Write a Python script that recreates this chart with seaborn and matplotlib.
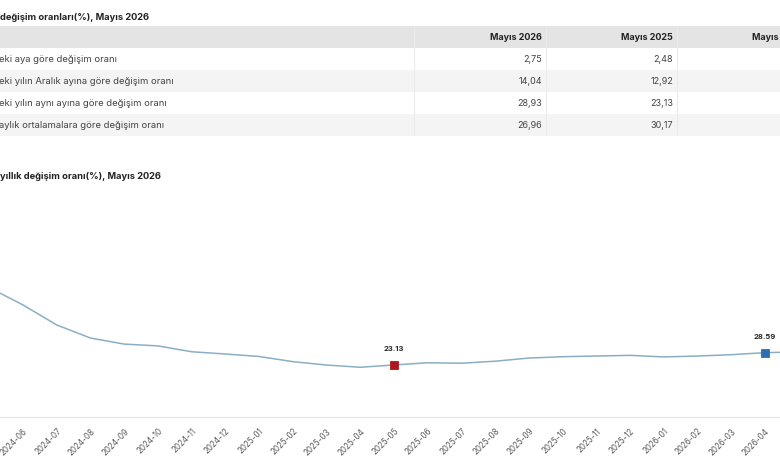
import matplotlib
matplotlib.use("Agg")
import matplotlib.pyplot as plt
import pandas as pd
import seaborn as sns

sns.set_theme(style="white")
plt.rcParams["font.family"] = ["Inter", "DejaVu Sans"]

W, H = 780, 470

# table data
table_title = "değişim oranları(%), Mayıs 2026"
col_headers = ["Mayıs 2026", "Mayıs 2025", "Mayıs 2024"]
row_labels = [
    "eki aya göre değişim oranı",
    "eki yılın Aralık ayına göre değişim oranı",
    "eki yılın aynı ayına göre değişim oranı",
    "aylık ortalamalara göre değişim oranı",
]
may_2026 = [2.75, 14.04, 28.93, 26.96]
may_2025 = [2.48, 12.92, 23.13, 30.17]

# line chart data
chart_title = "yıllık değişim oranı(%), Mayıs 2026"
months = [
    "2024-05", "2024-06", "2024-07", "2024-08", "2024-09", "2024-10",
    "2024-11", "2024-12", "2025-01", "2025-02", "2025-03", "2025-04",
    "2025-05", "2025-06", "2025-07", "2025-08", "2025-09", "2025-10",
    "2025-11", "2025-12", "2026-01", "2026-02", "2026-03", "2026-04",
    "2026-05",
]
annual_rate = [
    57.5, 49.8, 40.9, 35.1, 32.4, 31.6,
    29.0, 28.0, 26.9, 24.6, 23.1, 22.1,
    23.13, 24.1, 23.9, 24.8, 26.2, 26.8,
    27.1, 27.4, 26.7, 27.1, 27.7, 28.59,
    28.93,
]
highlight_months = ["2025-05", "2026-04"]
highlight_colors = ["#b0141c", "#2b6fb3"]


def px_rect(left, top, right, bottom):
    return [left / W, 1 - bottom / H, (right - left) / W, (bottom - top) / H]


def fmt(v):
    return f"{v:.2f}".replace(".", ",")


fig = plt.figure(figsize=(W / 100, H / 100), dpi=100)
fig.patch.set_facecolor("white")

# ---- table ----
fig.text(0 / W, 1 - 18 / H, table_title, fontsize=6.7, fontweight="bold",
         color="#222222", va="center", ha="left")

ax_t = fig.add_axes(px_rect(0, 26, W, 136))
ax_t.set_xlim(0, W)
ax_t.set_ylim(len(row_labels) + 1, 0)
ax_t.axis("off")

ax_t.axhspan(0, 1, color="#e4e4e4", lw=0)
for i in range(len(row_labels)):
    if i % 2 == 1:
        ax_t.axhspan(i + 1, i + 2, color="#f4f4f4", lw=0)
for sep in [414, 546, 677]:
    ax_t.axvline(sep, color="#ebebeb", lw=0.8)

col_right = [542, 673, 804]
for x, head in zip(col_right, col_headers):
    ax_t.text(x, 0.5, head, ha="right", va="center", fontsize=6.5,
              fontweight="bold", color="#222222")

for i, label in enumerate(row_labels):
    ax_t.text(-1, i + 1.5, label, ha="left", va="center", fontsize=6.8, color="#444444")
for x, values in zip(col_right, [may_2026, may_2025]):
    for i, v in enumerate(values):
        ax_t.text(x, i + 1.5, fmt(v), ha="right", va="center", fontsize=6.5, color="#444444")

# ---- line chart ----
fig.text(0 / W, 1 - 177 / H, chart_title, fontsize=6.7, fontweight="bold",
         color="#222222", va="center", ha="left")

df = pd.DataFrame({"idx": range(len(months)), "month": months, "rate": annual_rate})

ax = fig.add_axes(px_rect(0, 192, W, 417))
sns.lineplot(data=df, x="idx", y="rate", color="#8aaec4", lw=1.1, ax=ax)

for m, c in zip(highlight_months, highlight_colors):
    row = df[df["month"] == m].iloc[0]
    sns.scatterplot(x=[row["idx"]], y=[row["rate"]], marker="s", s=40, color=c,
                    edgecolor=c, linewidth=0.6, ax=ax, zorder=5)
    ax.annotate(f"{row['rate']:.2f}", (row["idx"], row["rate"]), xytext=(0, 9),
                textcoords="offset points", ha="center", va="bottom",
                fontsize=5.5, fontweight="bold", color="#222222")

ax.set_xticks(df["idx"])
ax.set_xticklabels(months, rotation=45, ha="right", rotation_mode="anchor",
                   fontsize=5.8, color="#5a5a5a")
ax.set_xlim(0.318, 23.445)
ax.set_ylim(0, 100)
ax.tick_params(axis="x", length=0, pad=7)
ax.set_yticks([])
ax.set_xlabel("")
ax.set_ylabel("")
for side in ["top", "left", "right"]:
    ax.spines[side].set_visible(False)
ax.spines["bottom"].set_color("#e3e3e3")
ax.spines["bottom"].set_linewidth(0.8)
ax.set_facecolor("white")

fig.savefig("out.png", dpi=100)
